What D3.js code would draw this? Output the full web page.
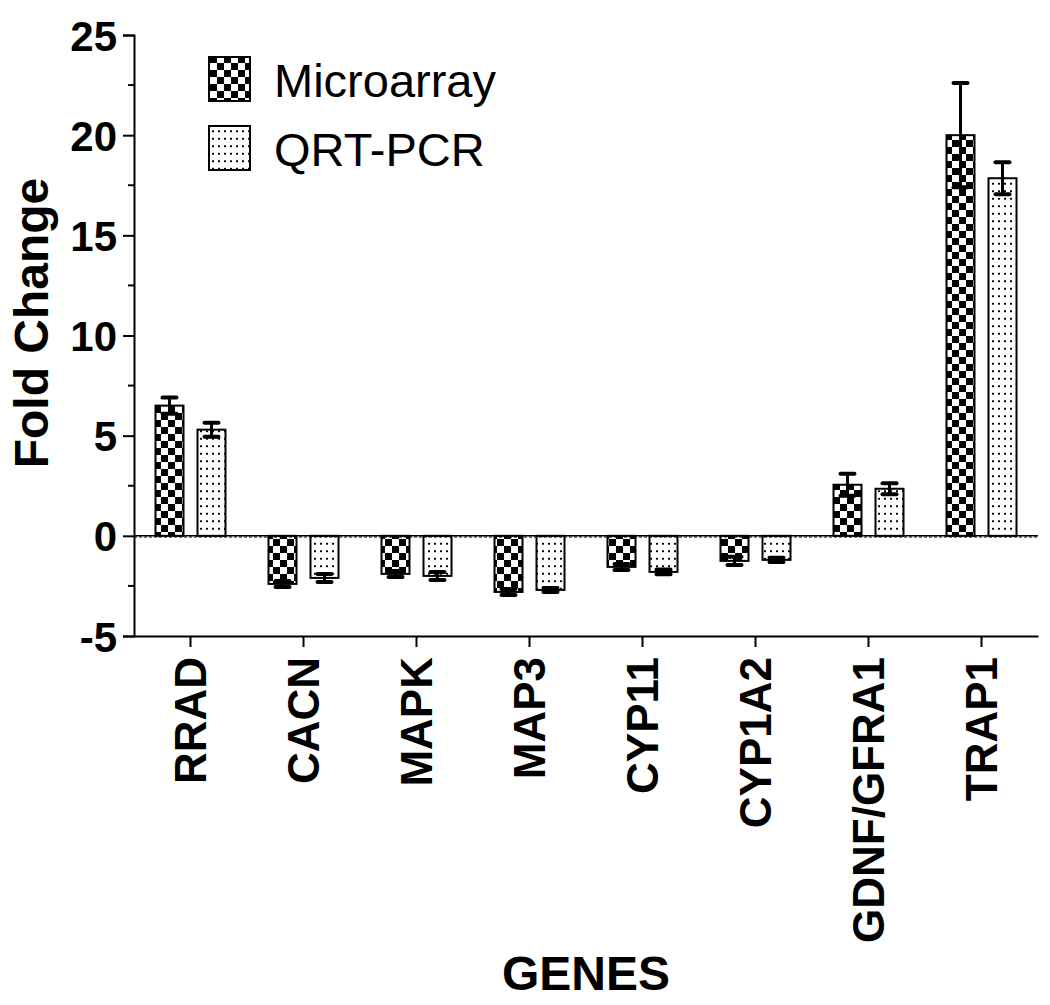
<!DOCTYPE html>
<html>
<head>
<meta charset="utf-8">
<script src="https://cdn.jsdelivr.net/npm/d3@7"></script>
<style>
  body { margin: 0; background: #fff; }
  svg text { font-family: "Liberation Sans", Arial, sans-serif; fill: #000; }
</style>
</head>
<body>
<div id="chart"></div>
<script>
// data
var genes = ["RRAD", "CACN", "MAPK", "MAP3", "CYP11", "CYP1A2", "GDNF/GFRA1", "TRAP1"];
var microarray = [6.5, -2.4, -1.9, -2.8, -1.55, -1.25, 2.55, 20.0];
var microarrayErr = [0.4, 0.15, 0.15, 0.15, 0.15, 0.2, 0.55, 2.6];
var qrtpcr = [5.3, -2.1, -2.0, -2.7, -1.8, -1.2, 2.35, 17.85];
var qrtpcrErr = [0.35, 0.2, 0.2, 0.1, 0.12, 0.1, 0.27, 0.8];
var yTicks = [-5, 0, 5, 10, 15, 20, 25];
var seriesNames = ["Microarray", "QRT-PCR"];

var width = 1050, height = 1005;
var svg = d3.select("#chart").append("svg")
    .attr("width", width)
    .attr("height", height);

var defs = svg.append("defs");

// checkerboard
var chk = defs.append("pattern")
    .attr("id", "checker")
    .attr("patternUnits", "userSpaceOnUse")
    .attr("width", 14).attr("height", 14);
chk.append("rect").attr("width", 14).attr("height", 14).attr("fill", "#fff");
chk.append("rect").attr("width", 7).attr("height", 7).attr("fill", "#000");
chk.append("rect").attr("x", 7).attr("y", 7).attr("width", 7).attr("height", 7).attr("fill", "#000");

// dotted
var dot = defs.append("pattern")
    .attr("id", "dots")
    .attr("patternUnits", "userSpaceOnUse")
    .attr("width", 6).attr("height", 7.5);
dot.append("rect").attr("width", 6).attr("height", 7.5).attr("fill", "#fff");
dot.append("rect").attr("x", 2).attr("y", 3).attr("width", 2).attr("height", 2)
    .attr("fill", "#000").attr("shape-rendering", "crispEdges");

var x = d3.scaleBand().domain(genes).range([134, 1038]).padding(0);
var y = d3.scaleLinear().domain([-5, 25]).range([636, 35]);

var barW = 28, offs = 21;

var series = [
    { name: seriesNames[0], vals: microarray, errs: microarrayErr, fill: "url(#checker)", dx: -offs },
    { name: seriesNames[1], vals: qrtpcr, errs: qrtpcrErr, fill: "url(#dots)", dx: offs }
];

series.forEach(function(s) {
    var g = svg.append("g");
    genes.forEach(function(gene, i) {
        var cx = x(gene) + x.bandwidth() / 2 + s.dx;
        var v = s.vals[i];
        g.append("rect")
            .attr("x", cx - barW / 2)
            .attr("y", Math.min(y(v), y(0)))
            .attr("width", barW)
            .attr("height", Math.abs(y(v) - y(0)))
            .attr("fill", s.fill)
            .attr("stroke", "#000")
            .attr("stroke-width", 2);
    });
    genes.forEach(function(gene, i) {
        var cx = x(gene) + x.bandwidth() / 2 + s.dx;
        var v = s.vals[i], e = s.errs[i];
        var y1 = y(v - e), y2 = y(v + e);
        g.append("line")
            .attr("x1", cx).attr("x2", cx)
            .attr("y1", y1).attr("y2", y2)
            .attr("stroke", "#000").attr("stroke-width", 3);
        [y1, y2].forEach(function(yy) {
            g.append("line")
                .attr("x1", cx - 7).attr("x2", cx + 7)
                .attr("y1", yy).attr("y2", yy)
                .attr("stroke", "#000").attr("stroke-width", 4)
                .attr("stroke-linecap", "round");
        });
    });
});

// zero line
svg.append("line")
    .attr("x1", 134).attr("x2", 1038)
    .attr("y1", y(0)).attr("y2", y(0))
    .attr("stroke", "#000").attr("stroke-width", 1.5);
svg.append("line")
    .attr("x1", 134).attr("x2", 1038)
    .attr("y1", y(0) + 1.2).attr("y2", y(0) + 1.2)
    .attr("stroke", "#000").attr("stroke-width", 1)
    .attr("stroke-dasharray", "3,2");

// y axis
var yAxis = svg.append("g")
    .attr("transform", "translate(134,0)")
    .call(d3.axisLeft(y).tickValues(yTicks).tickSize(11).tickPadding(6)
        .tickFormat(function(d) { return String(d); }));
yAxis.select(".domain").attr("stroke-width", 2);
yAxis.selectAll(".tick line").attr("stroke-width", 2);
yAxis.selectAll(".tick text")
    .style("font-size", "42px").style("font-weight", "bold")
    .attr("dy", "0.36em");
var minor = d3.range(-2.5, 25, 5);
yAxis.selectAll(".minor").data(minor).enter().append("line")
    .attr("class", "minor")
    .attr("x1", -6).attr("x2", 0)
    .attr("y1", function(d) { return y(d); })
    .attr("y2", function(d) { return y(d); })
    .attr("stroke", "#000").attr("stroke-width", 2);

// x axis
var xAxis = svg.append("g")
    .attr("transform", "translate(0,636)")
    .call(d3.axisBottom(x).tickSize(11).tickSizeOuter(0).tickPadding(10));
xAxis.select(".domain").attr("stroke-width", 2);
xAxis.selectAll(".tick line").attr("stroke-width", 2);
xAxis.selectAll(".tick text")
    .style("font-size", "44px").style("font-weight", "bold")
    .attr("text-anchor", "end")
    .attr("transform", "rotate(-90)")
    .attr("x", -21).attr("y", 0).attr("dy", "0.36em");

// axis titles
svg.append("text")
    .attr("transform", "translate(48,323) rotate(-90)")
    .attr("text-anchor", "middle")
    .style("font-size", "48px").style("font-weight", "bold")
    .text("Fold Change");
svg.append("text")
    .attr("x", 586).attr("y", 990)
    .attr("text-anchor", "middle")
    .style("font-size", "48px").style("font-weight", "bold")
    .text("GENES");

// legend
var leg = svg.append("g");
series.forEach(function(s, i) {
    var ly = 57 + i * 69;
    leg.append("rect")
        .attr("x", 209).attr("y", ly)
        .attr("width", 41).attr("height", 44)
        .attr("fill", s.fill)
        .attr("stroke", "#000").attr("stroke-width", 2);
    leg.append("text")
        .attr("x", 274).attr("y", ly + 40)
        .style("font-size", "47px")
        .text(s.name);
});
</script>
</body>
</html>
